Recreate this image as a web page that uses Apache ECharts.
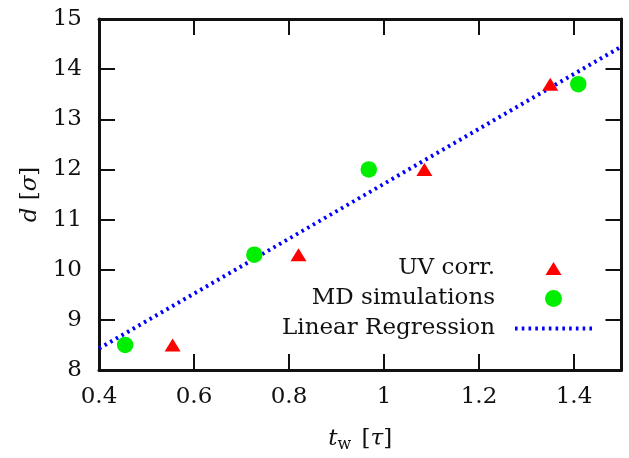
<!DOCTYPE html>
<html>
<head>
<meta charset="utf-8">
<script src="https://cdn.jsdelivr.net/npm/echarts@6/dist/echarts.min.js"></script>
<style>
  html, body { margin: 0; padding: 0; background: #fff; }
  #chart { width: 629px; height: 458px; }
</style>
</head>
<body>
<div id="chart"></div>
<script>
// data
const uvCorr = [[0.555, 8.5], [0.82, 10.3], [1.085, 12.0], [1.35, 13.7]];
const mdSim = [[0.455, 8.5], [0.727, 10.3], [0.968, 12.0], [1.409, 13.7]];
const regression = [[0.4, 8.43], [1.5, 14.45]];

const FONT = "DejaVu Serif";
const INK = "#111";

// legend icons: triangle padded to a 16x17 box, dotted sample of 12 short dashes
const triLegend = "path://M0,15L8,2L16,15ZM0,0M16,17";
let dashPath = "path://";
for (let k = 0; k < 12; k++) {
    dashPath += "M" + (k * 6.5) + ",0h2.5v4h-2.5z";
}

const chart = echarts.init(document.getElementById("chart"));

const tickStyle = { inside: true, length: 16, lineStyle: { color: INK, width: 2 } };
const lineAxis = { lineStyle: { color: INK, width: 3 } };
const labelStyle = { fontFamily: FONT, fontSize: 23, color: INK };

chart.setOption({
    animation: false,
    grid: { left: 99, right: 7.5, top: 19, bottom: 88 },
    xAxis: [{
        type: "value", min: 0.4, max: 1.5, interval: 0.2,
        axisLine: lineAxis, axisTick: tickStyle, splitLine: { show: false },
        axisLabel: Object.assign({ margin: 16, showMaxLabel: false }, labelStyle),
        name: "{i|t}{s|w} [{i|τ}]",
        nameLocation: "middle", nameGap: 55,
        nameTextStyle: {
            fontFamily: FONT, fontSize: 23, color: INK,
            rich: {
                i: { fontFamily: FONT, fontSize: 23, fontStyle: "italic", color: INK },
                s: { fontFamily: FONT, fontSize: 16, color: INK, padding: [12, 3, 0, 0] }
            }
        }
    }, {
        type: "value", position: "top", min: 0.4, max: 1.5, interval: 0.2,
        axisLine: lineAxis, axisTick: tickStyle, splitLine: { show: false },
        axisLabel: { show: false }
    }],
    yAxis: [{
        type: "value", min: 8, max: 15, interval: 1,
        axisLine: lineAxis, axisTick: tickStyle, splitLine: { show: false },
        axisLabel: Object.assign({ margin: 17 }, labelStyle),
        name: "{i|d} [{i|σ}]",
        nameLocation: "middle", nameGap: 56, nameRotate: 90,
        nameTextStyle: {
            fontFamily: FONT, fontSize: 23, color: INK,
            rich: {
                i: { fontFamily: FONT, fontSize: 23, fontStyle: "italic", color: INK }
            }
        }
    }, {
        type: "value", position: "right", min: 8, max: 15, interval: 1,
        axisLine: lineAxis, axisTick: tickStyle, splitLine: { show: false },
        axisLabel: { show: false }
    }],
    legend: {
        orient: "vertical", align: "right",
        right: 37, top: 257, padding: 0,
        itemWidth: 77, itemHeight: 17, itemGap: 7,
        textStyle: { fontFamily: FONT, fontSize: 23, color: INK, padding: [0, 15, 0, 0] },
        data: [
            { name: "UV corr.", icon: triLegend, itemStyle: { opacity: 1 } },
            { name: "MD simulations", icon: "circle", itemStyle: { opacity: 1 } },
            { name: "Linear Regression", icon: dashPath, itemStyle: { color: "#0000ff", opacity: 1 } }
        ]
    },
    series: [{
        name: "Linear Regression", type: "line", data: regression,
        showSymbol: false, symbol: "none", z: 1,
        lineStyle: { color: "#0000ff", width: 4, type: [2.5, 4] },
        itemStyle: { color: "#0000ff" }
    }, {
        name: "UV corr.", type: "scatter", data: uvCorr,
        symbol: "path://M0,13L8,0L16,13Z", symbolSize: [16, 13], z: 3,
        itemStyle: { color: "#ff0000", opacity: 1 }
    }, {
        name: "MD simulations", type: "scatter", data: mdSim,
        symbol: "circle", symbolSize: 16.5, z: 2,
        itemStyle: { color: "#00ee00", opacity: 1 }
    }]
});
</script>
</body>
</html>
